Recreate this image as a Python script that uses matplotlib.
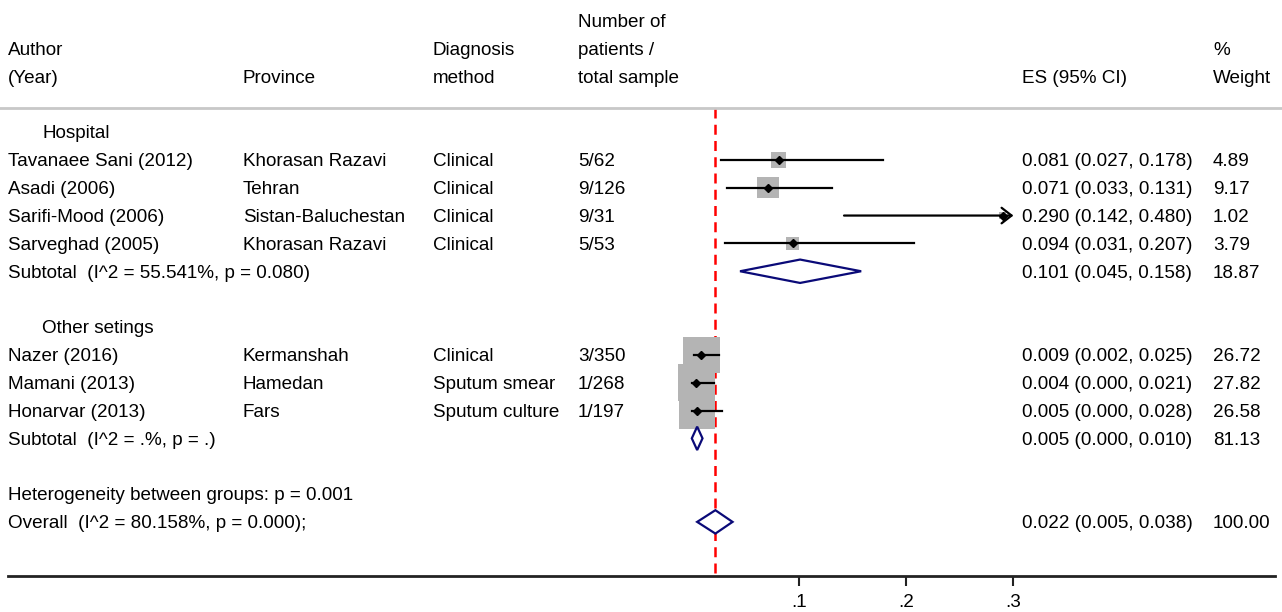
import matplotlib
matplotlib.use('Agg')
import matplotlib.pyplot as plt
import matplotlib.transforms as mtransforms
from matplotlib.patches import Polygon, Rectangle

plt.rcParams['font.family'] = ['Liberation Sans', 'DejaVu Sans']

# study data
authors = ['Tavanaee Sani (2012)', 'Asadi (2006)', 'Sarifi-Mood (2006)', 'Sarveghad (2005)',
           'Nazer (2016)', 'Mamani (2013)', 'Honarvar (2013)']
provinces = ['Khorasan Razavi', 'Tehran', 'Sistan-Baluchestan', 'Khorasan Razavi',
             'Kermanshah', 'Hamedan', 'Fars']
methods = ['Clinical', 'Clinical', 'Clinical', 'Clinical', 'Clinical', 'Sputum smear', 'Sputum culture']
counts = ['5/62', '9/126', '9/31', '5/53', '3/350', '1/268', '1/197']
es = [0.081, 0.071, 0.290, 0.094, 0.009, 0.004, 0.005]
lo = [0.027, 0.033, 0.142, 0.031, 0.002, 0.000, 0.000]
hi = [0.178, 0.131, 0.480, 0.207, 0.025, 0.021, 0.028]
weights = [4.89, 9.17, 1.02, 3.79, 26.72, 27.82, 26.58]
study_rows = [1, 2, 3, 4, 8, 9, 10]

# pooled estimates
pooled_labels = ['Subtotal  (I^2 = 55.541%, p = 0.080)', 'Subtotal  (I^2 = .%, p = .)',
                 'Overall  (I^2 = 80.158%, p = 0.000);']
pooled_es = [0.101, 0.005, 0.022]
pooled_lo = [0.045, 0.000, 0.005]
pooled_hi = [0.158, 0.010, 0.038]
pooled_w = [18.87, 81.13, 100.00]
pooled_rows = [5, 11, 14]

groups = ['Hospital', 'Other setings']
group_rows = [0, 7]
het_text = 'Heterogeneity between groups: p = 0.001'
het_row = 13

xticks = [0.1, 0.2, 0.3]
xticklabels = ['.1', '.2', '.3']
overall_line = 0.022
plot_max = 0.3

W, H = 1282, 612
fig = plt.figure(figsize=(W / 100, H / 100), dpi=100)
# axes bottom edge is the x axis line
ax = fig.add_axes([8 / W, 1 - 576 / H, (1275 - 8) / W, 576 / H])
px_per_unit = 1072.0
x0 = 691.8
ax.set_xlim((8 - x0) / px_per_unit, (1275 - x0) / px_per_unit)
row_h = 27.85
ax.set_ylim((576 - 132) / row_h, -132 / row_h)
for s in ['top', 'left', 'right']:
    ax.spines[s].set_visible(False)
ax.spines['bottom'].set_linewidth(2)
ax.spines['bottom'].set_color('#222222')
ax.set_yticks([])
ax.set_xticks(xticks)
ax.set_xticklabels(xticklabels, fontsize=13.6)
ax.tick_params(axis='x', direction='out', length=7, width=1.5, pad=6, color='#222222')

fs = 13.6
txt_off = 0.07
tr = mtransforms.blended_transform_factory(fig.transFigure, ax.transData)
col_author, col_prov, col_meth, col_cnt, col_es, col_w = 8, 243, 433, 578, 1022, 1213

def put(xpx, row, s):
    ax.text(xpx / W, row + txt_off, s, transform=tr, fontsize=fs, va='center', ha='left',
            clip_on=False)

# headers
put(col_author, -3, 'Author')
put(col_author, -2, '(Year)')
put(col_prov, -2, 'Province')
put(col_meth, -3, 'Diagnosis')
put(col_meth, -2, 'method')
put(col_cnt, -4, 'Number of')
put(col_cnt, -3, 'patients /')
put(col_cnt, -2, 'total sample')
put(col_es, -2, 'ES (95% CI)')
put(col_w, -3, '%')
put(col_w, -2, 'Weight')
ax.plot([0, 1], [-0.86, -0.86], transform=tr, color='#c8c8c8', lw=2, clip_on=False)

for g, r in zip(groups, group_rows):
    put(42, r, g)

for i in range(len(authors)):
    r = study_rows[i]
    put(col_author, r, authors[i])
    put(col_prov, r, provinces[i])
    put(col_meth, r, methods[i])
    put(col_cnt, r, counts[i])
    put(col_es, r, '%.3f (%.3f, %.3f)' % (es[i], lo[i], hi[i]))
    put(col_w, r, '%.2f' % weights[i])
    # weight box
    side_px = 7.0 * weights[i] ** 0.5
    bw = side_px / px_per_unit
    bh = side_px / row_h
    ax.add_patch(Rectangle((es[i] - bw / 2, r - bh / 2), bw, bh, facecolor='#b4b4b4',
                           edgecolor='none', zorder=2))
    if hi[i] > plot_max:
        ax.annotate('', xy=(plot_max, r), xytext=(lo[i], r),
                    arrowprops=dict(arrowstyle='->,head_length=0.45,head_width=0.35',
                                    color='black', lw=1.6, mutation_scale=16,
                                    shrinkA=0, shrinkB=0), zorder=3)
    else:
        ax.plot([lo[i], hi[i]], [r, r], color='black', lw=1.6, zorder=3)
    ax.plot(es[i], r, marker='D', color='black', markersize=4.5, zorder=4)

for i in range(len(pooled_labels)):
    r = pooled_rows[i]
    put(col_author, r, pooled_labels[i])
    put(col_es, r, '%.3f (%.3f, %.3f)' % (pooled_es[i], pooled_lo[i], pooled_hi[i]))
    put(col_w, r, '%.2f' % pooled_w[i])
    dh = 0.42
    ax.add_patch(Polygon([(pooled_lo[i], r), (pooled_es[i], r - dh), (pooled_hi[i], r),
                          (pooled_es[i], r + dh)], closed=True, facecolor='white',
                         edgecolor='#0a0a78', lw=1.6, zorder=4))

put(col_author, het_row, het_text)

ax.plot([overall_line, overall_line], [-0.86, (576 - 132) / row_h], color='#ff0000', lw=1.8,
        linestyle=(0, (4, 2.5)), zorder=1, clip_on=False)

fig.savefig('out.png', dpi=100)
